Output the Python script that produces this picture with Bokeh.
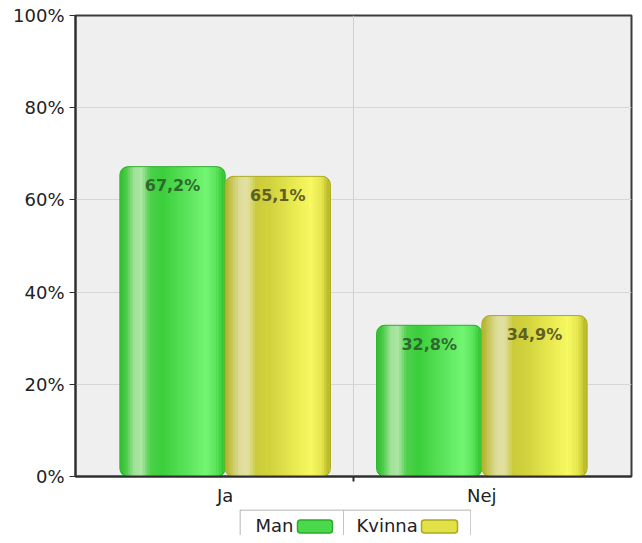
import math
from bokeh.plotting import figure
from bokeh.models import Range1d, FixedTicker, Spacer
from bokeh.layouts import column, row
from bokeh.embed import file_html
from bokeh.resources import INLINE
from bokeh.core.properties import value

# ---------------- data ----------------
categories = ["Ja", "Nej"]
series = ["Man", "Kvinna"]
man = [67.2, 32.8]
kvinna = [65.1, 34.9]
y_ticks = [0, 20, 40, 60, 80, 100]
y_tick_labels = ["0%", "20%", "40%", "60%", "80%", "100%"]

# ---------------- styles ----------------
FONT = "DejaVu Sans"
W, H = 634, 509
BL, BR, BT, BB = 75, 3, 15, 33
X0, X1 = -0.583, 1.583
BAR_W = 0.41
OFFS = [-0.205, 0.205]

styles = {
    "Man": dict(
        edge="#2cbf2c", outline="#26ae26", label="#2d6a2d",
        swatch="#4cd84c",
        profile=[(0.00, "#2cbf2c"), (0.06, "#48ca46"), (0.14, "#a2e29a"),
                 (0.21, "#ace6a4"), (0.29, "#4fd04c"), (0.40, "#3ccf3c"),
                 (0.60, "#56df56"), (0.82, "#74f674"), (0.92, "#5ce45c"),
                 (1.00, "#2cc02c")]),
    "Kvinna": dict(
        edge="#b4b424", outline="#a9a91e", label="#5f5f24",
        swatch="#e2e248",
        profile=[(0.00, "#b0b022"), (0.07, "#c8c85c"), (0.15, "#e0de9e"),
                 (0.22, "#e2e0a2"), (0.30, "#cbcb3c"), (0.45, "#d4d440"),
                 (0.65, "#e8e850"), (0.82, "#f8f862"), (0.92, "#e6e650"),
                 (1.00, "#afaf20")]),
}


def hex2rgb(h):
    h = h.lstrip("#")
    return tuple(int(h[i:i + 2], 16) for i in (0, 2, 4))


def interp(profile, f):
    for (f0, c0), (f1, c1) in zip(profile[:-1], profile[1:]):
        if f0 <= f <= f1:
            t = 0 if f1 == f0 else (f - f0) / (f1 - f0)
            a, b = hex2rgb(c0), hex2rgb(c1)
            return "#%02x%02x%02x" % tuple(round(a[k] + (b[k] - a[k]) * t) for k in range(3))
    return profile[-1][1]


def corner(d, r):
    if d >= r:
        return 0.0
    return r - math.sqrt(max(r * r - (r - d) ** 2, 0.0))


# ---------------- main figure ----------------
p = figure(width=W, height=H, output_backend="svg", toolbar_location=None,
           x_range=Range1d(X0, X1), y_range=Range1d(0, 100),
           min_border_left=BL, min_border_right=BR,
           min_border_top=BT, min_border_bottom=BB)
p.background_fill_color = "#efefef"
p.border_fill_color = "white"
p.outline_line_color = "#3c3c3c"
p.outline_line_width = 2

frame_w = W - BL - BR
frame_h = H - BT - BB
px_x = frame_w / (X1 - X0)
px_y = frame_h / 100.0

# axes
p.yaxis.ticker = FixedTicker(ticks=y_ticks)
p.yaxis.major_label_overrides = {t: l for t, l in zip(y_ticks, y_tick_labels)}
p.yaxis.major_label_text_font = FONT
p.yaxis.major_label_text_font_size = "18px"
p.yaxis.major_label_text_color = "#222222"
p.yaxis.major_tick_out = 6
p.yaxis.major_tick_in = 0
p.yaxis.minor_tick_line_color = None
p.yaxis.major_label_standoff = 5
p.yaxis.axis_line_color = "#2e2e2e"
p.yaxis.axis_line_width = 2
p.yaxis.major_tick_line_color = "#2e2e2e"

p.xaxis.ticker = FixedTicker(ticks=list(range(len(categories))), minor_ticks=[0.5])
p.xaxis.major_label_overrides = {i: c for i, c in enumerate(categories)}
p.xaxis.major_label_text_font = FONT
p.xaxis.major_label_text_font_size = "18px"
p.xaxis.major_label_text_color = "#222222"
p.xaxis.major_tick_line_color = None
p.xaxis.major_tick_out = 0
p.xaxis.major_tick_in = 0
p.xaxis.minor_tick_out = 5
p.xaxis.minor_tick_in = 0
p.xaxis.minor_tick_line_color = "#2e2e2e"
p.xaxis.minor_tick_line_width = 2
p.xaxis.major_label_standoff = 3
p.xaxis.axis_line_color = "#2e2e2e"
p.xaxis.axis_line_width = 2

p.ygrid.ticker = FixedTicker(ticks=y_ticks[1:-1])
p.ygrid.grid_line_color = "#d6d6d6"
p.xgrid.ticker = FixedTicker(ticks=[0.5])
p.xgrid.grid_line_color = "#cfcfcf"

# bars
data = {"Man": man, "Kvinna": kvinna}
N = 42
R = 8
for si, s in enumerate(series):
    st = styles[s]
    vals = data[s]
    xs = [ci + OFFS[si] for ci in range(len(categories))]
    p.vbar(x=xs, top=vals, bottom=0, width=BAR_W,
           fill_color=st["edge"], line_color=st["outline"], line_width=1,
           border_radius=R)
    # gradient stripes (vertical bands) inside each bar
    sx, stops, sbots, scols, sws = [], [], [], [], []
    wpx = BAR_W * px_x
    inner = wpx - 2.0
    for xc, v in zip(xs, vals):
        for i in range(N):
            a = 1.0 + i * inner / N
            b = a + inner / N
            d = min(a, wpx - b)
            ins = corner(d, R) + 1.0
            left_u = xc - BAR_W / 2 + a / px_x
            right_u = xc - BAR_W / 2 + b / px_x
            sx.append((left_u + right_u) / 2)
            sws.append(right_u - left_u)
            stops.append(v - ins / px_y)
            sbots.append(ins / px_y)
            scols.append(interp(st["profile"], (a + b) / 2 / wpx))
    p.vbar(x=sx, top=stops, bottom=sbots, width=sws,
           fill_color=scols, line_color=scols, line_width=1)
    labels = [("%.1f" % v).replace(".", ",") + "%" for v in vals]
    p.text(x=xs, y=vals, text=labels, text_align="center", text_baseline="middle",
           y_offset=19, text_font=value(FONT), text_font_style="bold",
           text_font_size="16px", text_color=st["label"])

# ---------------- legend (label then swatch) ----------------
LW, LH = 232, 26
lg = figure(width=LW, height=LH, output_backend="svg", toolbar_location=None,
            x_range=Range1d(0, LW), y_range=Range1d(0, LH),
            x_axis_type=None, y_axis_type=None,
            min_border_left=0, min_border_right=0, min_border_top=0, min_border_bottom=0)
lg.outline_line_color = None
lg.xgrid.visible = False
lg.ygrid.visible = False
lg.background_fill_color = "white"
# box open at the bottom (cut off in the reference)
lg.multi_line(xs=[[0.5, 0.5, LW - 0.5, LW - 0.5]], ys=[[0, LH - 0.5, LH - 0.5, 0]],
              line_color="#9c9c9c", line_width=1)
cell_x = [0, 104]
text_dx = [16, 13]
sw_x = [58, 182]
sw_w = [35, 36]
lg.segment(x0=[104], y0=[0], x1=[104], y1=[LH], line_color="#c4c4c4", line_width=1)
for si, s in enumerate(series):
    st = styles[s]
    lg.text(x=[cell_x[si] + text_dx[si]], y=[10], text=[s], text_align="left",
            text_baseline="middle", text_font=value(FONT), text_font_size="18px",
            text_color="#222222")
    lg.quad(left=[sw_x[si]], right=[sw_x[si] + sw_w[si]], bottom=[2.5],
            top=[15.5], fill_color=st["swatch"], line_color=st["outline"],
            line_width=1.5, border_radius=3)

layout = column(p, row(Spacer(width=239, height=LH), lg))
open("out.html", "w").write(file_html(layout, INLINE))
